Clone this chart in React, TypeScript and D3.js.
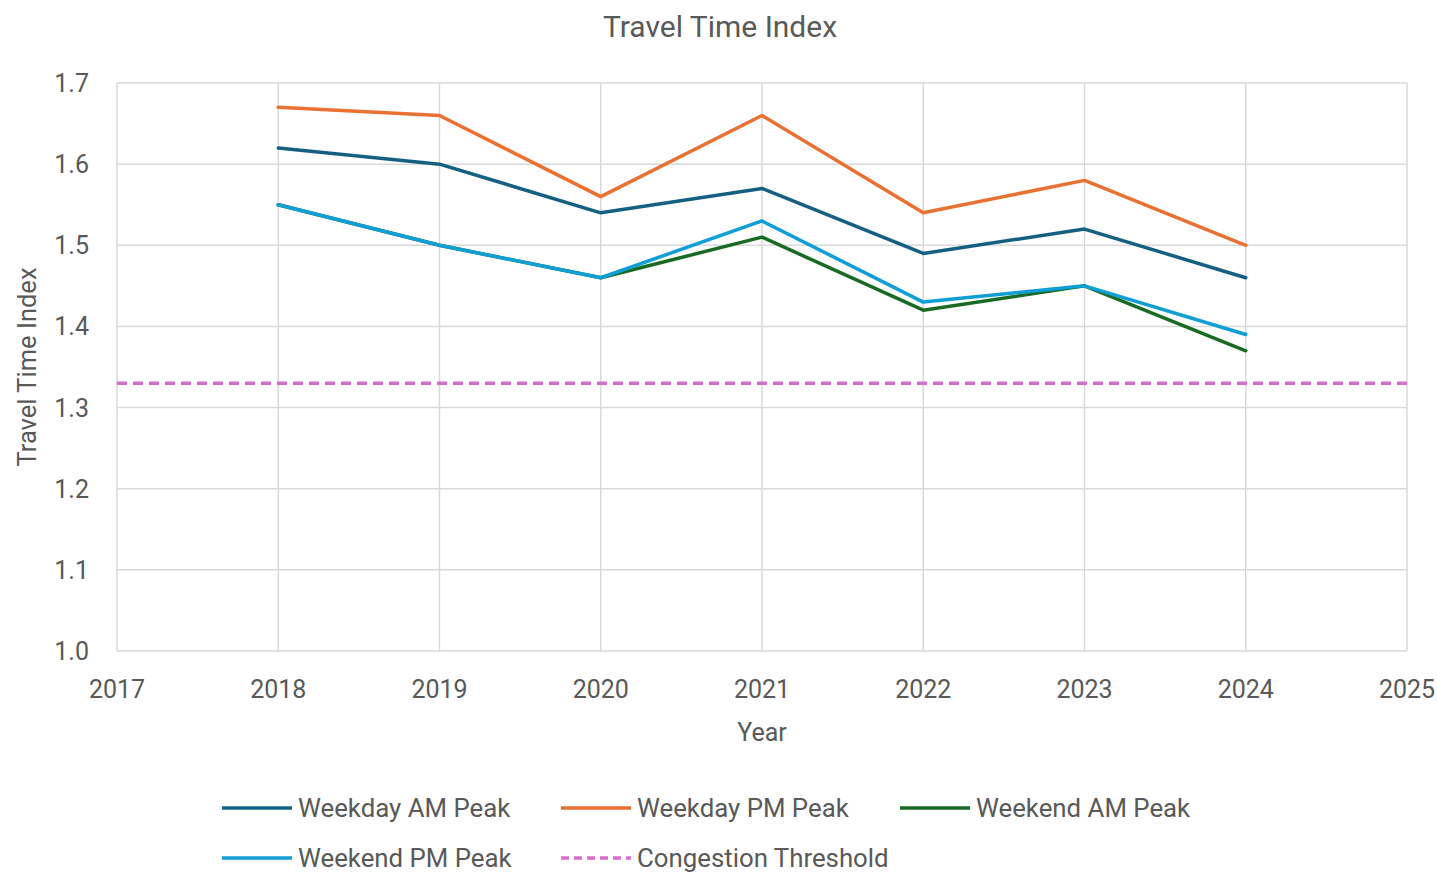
import React, { useEffect, useRef } from 'react'
import * as d3 from 'd3'

const years = [2018, 2019, 2020, 2021, 2022, 2023, 2024]
const weekdayAM = [1.62, 1.6, 1.54, 1.57, 1.49, 1.52, 1.46]
const weekdayPM = [1.67, 1.66, 1.56, 1.66, 1.54, 1.58, 1.5]
const weekendAM = [1.55, 1.5, 1.46, 1.51, 1.42, 1.45, 1.37]
const weekendPM = [1.55, 1.5, 1.46, 1.53, 1.43, 1.45, 1.39]
const threshold = 1.33
const xTicks = [2017, 2018, 2019, 2020, 2021, 2022, 2023, 2024, 2025]
const yTicks = [1.0, 1.1, 1.2, 1.3, 1.4, 1.5, 1.6, 1.7]

const series = [
  { name: 'Weekday AM Peak', values: weekdayAM, color: '#156082' },
  { name: 'Weekday PM Peak', values: weekdayPM, color: '#E97132' },
  { name: 'Weekend AM Peak', values: weekendAM, color: '#196B24' },
  { name: 'Weekend PM Peak', values: weekendPM, color: '#0F9ED5' },
]

const FONT = 'Roboto, "Open Sans", sans-serif'
const TXT = '#595959'

function drawChart(el: SVGSVGElement) {
  const svg = d3.select(el)
  svg.selectAll('*').remove()
  const W = 1437, H = 872
  const m = { left: 117, right: 1407, top: 83, bottom: 651 }

  const x = d3.scaleLinear().domain([2017, 2025]).range([m.left, m.right])
  const y = d3.scaleLinear().domain([1.0, 1.7]).range([m.bottom, m.top])

  svg.append('rect').attr('width', W).attr('height', H).attr('fill', '#fff')

  // gridlines
  const grid = svg.append('g')
  grid.selectAll('line.h').data(yTicks).join('line')
    .attr('x1', m.left).attr('x2', m.right)
    .attr('y1', d => y(d)).attr('y2', d => y(d))
    .attr('stroke', '#D9D9D9').attr('stroke-width', 1.5)
  grid.selectAll('line.v').data(xTicks).join('line')
    .attr('x1', d => x(d)).attr('x2', d => x(d))
    .attr('y1', m.top).attr('y2', m.bottom)
    .attr('stroke', '#D9D9D9').attr('stroke-width', 1.5)

  // tick labels
  svg.append('g').selectAll('text').data(yTicks).join('text')
    .attr('x', 89).attr('y', d => y(d) + 9)
    .attr('text-anchor', 'end')
    .attr('font-family', FONT).attr('font-size', 25).attr('fill', TXT)
    .text(d => d.toFixed(1))
  svg.append('g').selectAll('text').data(xTicks).join('text')
    .attr('x', d => x(d)).attr('y', 698)
    .attr('text-anchor', 'middle')
    .attr('font-family', FONT).attr('font-size', 25).attr('fill', TXT)
    .text(d => String(d))

  // titles
  svg.append('text').attr('x', 720).attr('y', 37).attr('text-anchor', 'middle')
    .attr('font-family', FONT).attr('font-size', 30).attr('fill', TXT)
    .text('Travel Time Index')
  svg.append('text').attr('x', x(2021)).attr('y', 741).attr('text-anchor', 'middle')
    .attr('font-family', FONT).attr('font-size', 25).attr('fill', TXT)
    .text('Year')
  svg.append('text').attr('transform', `translate(36,${(m.top + m.bottom) / 2}) rotate(-90)`)
    .attr('text-anchor', 'middle')
    .attr('font-family', FONT).attr('font-size', 25.5).attr('fill', TXT)
    .text('Travel Time Index')

  // threshold
  svg.append('line')
    .attr('x1', x(2017)).attr('x2', x(2025))
    .attr('y1', y(threshold)).attr('y2', y(threshold))
    .attr('stroke', '#D86ECC').attr('stroke-width', 3.5)
    .attr('stroke-dasharray', '10,6')

  const line = d3.line<number>()
    .x((d, i) => x(years[i]))
    .y(d => y(d))

  series.forEach(s => {
    svg.append('path').datum(s.values)
      .attr('d', line)
      .attr('fill', 'none')
      .attr('stroke', s.color)
      .attr('stroke-width', 3.5)
      .attr('stroke-linejoin', 'round')
      .attr('stroke-linecap', 'round')
  })

  // legend
  const legendItems = [
    ...series.map(s => ({ name: s.name, color: s.color, dash: null as string | null })),
    { name: 'Congestion Threshold', color: '#D86ECC', dash: '8,5' },
  ]
  const lg = svg.append('g')
  legendItems.forEach((it, i) => {
    const col = i % 3, row = Math.floor(i / 3)
    const lx = 222 + col * 339, ly = 808 + row * 50
    lg.append('line')
      .attr('x1', lx).attr('x2', lx + 70).attr('y1', ly).attr('y2', ly)
      .attr('stroke', it.color).attr('stroke-width', 3.5)
      .attr('stroke-dasharray', it.dash)
    lg.append('text').attr('x', lx + 76).attr('y', ly + 9)
      .attr('font-family', FONT).attr('font-size', 25.8).attr('fill', TXT)
      .text(it.name)
  })
}

const App = () => {
  const ref = useRef<SVGSVGElement>(null)
  useEffect(() => {
    if (ref.current) drawChart(ref.current)
  })
  return (
    <div style={{ position: 'absolute', left: 0, top: 0 }}>
      <svg ref={ref} width={1437} height={872} style={{ display: 'block' }} />
    </div>
  )
}

export default App
